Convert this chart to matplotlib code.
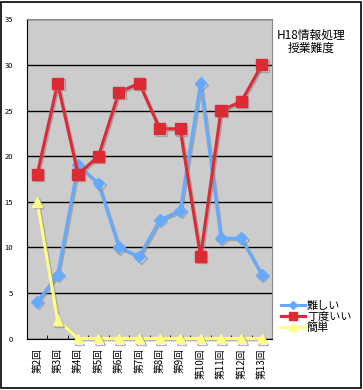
import matplotlib
matplotlib.use("Agg")
import matplotlib.pyplot as plt
import matplotlib.patheffects as pe
import numpy as np

plt.rcParams['font.family'] = ['Noto Sans CJK JP', 'DejaVu Sans']

# data
rounds = ['第2回', '第3回', '第4回', '第5回', '第6回', '第7回',
          '第8回', '第9回', '第10回', '第11回', '第12回', '第13回']
muzukashii = [4, 7, 19, 17, 10, 9, 13, 14, 28, 11, 11, 7]
choudo = [18, 28, 18, 20, 27, 28, 23, 23, 9, 25, 26, 30]
kantan = [15, 2, 0, 0, 0, 0, 0, 0, 0, 0, 0, 0]

fig = plt.figure(figsize=(3.63, 3.90), dpi=100)
fig.patch.set_facecolor('white')
# outer frame
fig.add_artist(plt.Rectangle((0.004, 0.006), 0.99, 0.99, transform=fig.transFigure,
                             fill=False, edgecolor='black', linewidth=1.2))

ax = fig.add_axes([27/363, 1 - 338.5/390, (272 - 27)/363, (338.5 - 19.3)/390])
ax.set_facecolor('#cccccc')

x = np.arange(len(rounds))
shadow = [pe.SimpleLineShadow(offset=(1, -1), shadow_color='#888888', alpha=0.6), pe.Normal()]

ax.plot(x, muzukashii, color='#66aaff', lw=2.2, marker='D', ms=6, label='難しい',
        path_effects=shadow, clip_on=False, zorder=3)
ax.plot(x, choudo, color='#dd2a35', lw=2.2, marker='s', ms=8, label='丁度いい',
        path_effects=shadow, clip_on=False, zorder=3)
ax.plot(x, kantan, color='#ffff88', lw=2.2, marker='^', ms=7, label='簡単',
        path_effects=shadow, clip_on=False, zorder=4)

ax.set_xlim(-0.5, len(rounds) - 0.5)
ax.set_ylim(0, 35)
ax.set_yticks(range(0, 36, 5))
ax.set_yticklabels([str(v) for v in range(0, 36, 5)], fontsize=5.5)
ax.yaxis.grid(True, color='black', lw=1)
ax.set_axisbelow(True)
ax.tick_params(axis='y', length=0, pad=10)

ax.set_xticks(x)
ax.set_xticklabels(rounds, rotation=90, fontsize=7)
ax.set_xticks(np.arange(-0.5, len(rounds), 1), minor=True)
ax.tick_params(axis='x', which='major', length=0, pad=7)
ax.tick_params(axis='x', which='minor', length=3, direction='in')

ax.spines['top'].set_color('#888888')
ax.spines['right'].set_color('#888888')
ax.spines['left'].set_color('black')
ax.spines['bottom'].set_color('black')

fig.text(311/363, 1 - 42/390, 'H18情報処理\n授業難度', ha='center', va='center',
         fontsize=8.5, linespacing=1.0)

leg = fig.legend(loc='center left', bbox_to_anchor=(281/363, 1 - 317/390), frameon=False,
                 fontsize=8, handlelength=2.2, labelspacing=0.05, handletextpad=0.15,
                 borderpad=0, borderaxespad=0, markerscale=0.75)
for line in leg.get_lines():
    line.set_path_effects([])

fig.savefig('out.png', dpi=100)
